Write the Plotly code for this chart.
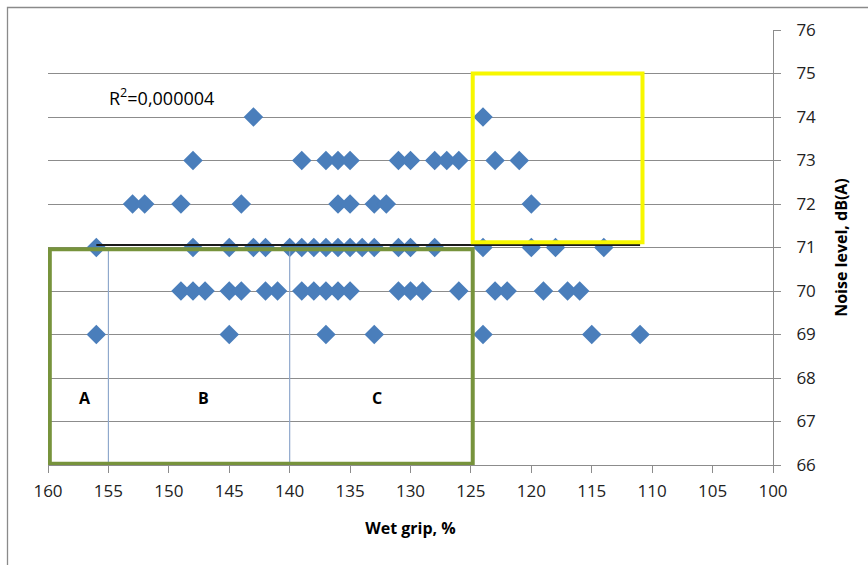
import numpy as np
import plotly.graph_objects as go

# Data (wet grip % per noise level row)
grip_74 = [143, 124]
grip_73 = [148, 139, 137, 136, 135, 131, 130, 128, 127, 126, 123, 121]
grip_72 = [153, 152, 149, 144, 136, 135, 133, 132, 120]
grip_71 = [156, 148, 145, 143, 142, 140, 139, 138, 137, 136, 135, 134, 133, 131, 130, 128, 124, 120, 118, 114]
grip_70 = [149, 148, 147, 145, 144, 142, 141, 139, 138, 137, 136, 135, 131, 130, 129, 126, 123, 122, 119, 117, 116]
grip_69 = [156, 145, 137, 133, 124, 115, 111]

rows = {74: grip_74, 73: grip_73, 72: grip_72, 71: grip_71, 70: grip_70, 69: grip_69}
wet_grip = [g for lvl, gs in rows.items() for g in gs]
noise_level = [lvl for lvl, gs in rows.items() for g in gs]

x_ticks = [160, 155, 150, 145, 140, 135, 130, 125, 120, 115, 110, 105, 100]
y_ticks = [66, 67, 68, 69, 70, 71, 72, 73, 74, 75, 76]

FONT = "Open Sans"
GRID = "#8c8c8c"

fig = go.Figure()
fig.add_trace(go.Scatter(
    x=wet_grip, y=noise_level, mode="markers",
    marker=dict(symbol="diamond", size=15, color="#4A7EBB"),
    showlegend=False, hoverinfo="x+y"))

# linear trendline (R^2 ~ 0 -> essentially flat at the mean level)
level = float(np.mean(noise_level))
tx = np.array([min(wet_grip), max(wet_grip)])
fig.add_trace(go.Scatter(x=tx, y=[level, level], mode="lines",
                         line=dict(color="#1a1a1a", width=2),
                         showlegend=False, hoverinfo="skip"))

shapes = []
# zone dividers
for xv in [155, 140]:
    shapes.append(dict(type="line", xref="x", yref="y", x0=xv, x1=xv, y0=66, y1=71,
                       line=dict(color="#8FA8CC", width=1.2), layer="above"))
# green rectangle
shapes.append(dict(type="rect", xref="x", yref="y", x0=159.85, x1=124.85, y0=66.03, y1=70.96,
                   line=dict(color="#77933C", width=4), layer="above"))
# yellow rectangle
shapes.append(dict(type="rect", xref="x", yref="y", x0=124.85, x1=110.8, y0=71.12, y1=75.0,
                   line=dict(color="#F7F700", width=4), layer="above"))
# outer chart frame
shapes.append(dict(type="rect", xref="paper", yref="paper",
                   x0=(7.5 - 48) / 725, x1=(880 - 48) / 725,
                   y0=(465 - 580) / 435, y1=(465 - 7.5) / 435,
                   line=dict(color="#8a8a8a", width=1.3), layer="below"))

annotations = [
    dict(x=(107 - 48) / 725, y=76 - (97 - 30) / 43.5, xref="paper", yref="y", xanchor="left",
         text="R<sup>2</sup>=0,000004", showarrow=False,
         font=dict(family=FONT, size=18, color="black")),
    dict(x=156.9, y=67.55, xref="x", yref="y", text="<b>A</b>", showarrow=False,
         font=dict(family=FONT, size=16, color="black")),
    dict(x=147.1, y=67.55, xref="x", yref="y", text="<b>B</b>", showarrow=False,
         font=dict(family=FONT, size=16, color="black")),
    dict(x=132.8, y=67.55, xref="x", yref="y", text="<b>C</b>", showarrow=False,
         font=dict(family=FONT, size=16, color="black")),
]

fig.update_layout(
    width=868, height=565,
    margin=dict(l=48, r=95, t=30, b=100, autoexpand=False),
    paper_bgcolor="white", plot_bgcolor="white",
    shapes=shapes, annotations=annotations,
    font=dict(family=FONT, color="#222222"),
    xaxis=dict(range=[160, 100], tickvals=x_ticks, ticktext=[str(v) for v in x_ticks],
               showgrid=False, zeroline=False, automargin=False,
               showline=True, linecolor=GRID, linewidth=1,
               ticks="outside", ticklen=7, tickcolor=GRID, tickwidth=1,
               tickfont=dict(family=FONT, size=17, color="#222222"),
               ticklabelstandoff=4,
               title=dict(text="<b>Wet grip, %</b>", standoff=21,
                          font=dict(family=FONT, size=16, color="black"))),
    yaxis=dict(range=[66, 76], tickvals=y_ticks, ticktext=[str(v) for v in y_ticks],
               side="right", showgrid=True, gridcolor=GRID, gridwidth=1,
               zeroline=False, showline=True, linecolor=GRID, linewidth=1, automargin=False,
               ticks="outside", ticklen=7, tickcolor=GRID, tickwidth=1,
               tickfont=dict(family=FONT, size=17, color="#222222"),
               ticklabelstandoff=12,
               title=dict(text="<b>Noise level, dB(A)</b>", standoff=20,
                          font=dict(family=FONT, size=16, color="black"))),
)

fig.write_html("out.html", config={"displayModeBar": False},
               post_script="document.body.style.margin='0px';document.body.style.padding='0px';")
